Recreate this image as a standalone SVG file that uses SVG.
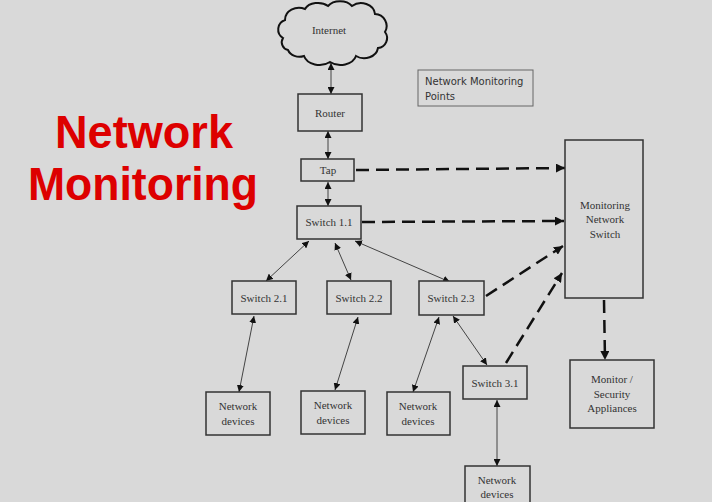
<svg xmlns="http://www.w3.org/2000/svg" width="712" height="502" viewBox="0 0 712 502">
<defs>
<style>
.bg{fill:#d9d9d9}
.box{fill:#d9d9d9;stroke:#333;stroke-width:1.5}
.t{font-family:"Liberation Serif",serif;font-size:11px;fill:#333;text-anchor:middle}
.ln{fill:none;stroke:#444;stroke-width:1;marker-start:url(#a);marker-end:url(#a)}
.dl{fill:none;stroke:#111;stroke-width:2.5;stroke-dasharray:13,7;marker-end:url(#d)}
.title{font-family:"Liberation Sans",Arial,sans-serif;font-weight:bold;font-size:46px;fill:#dd0000}
</style>
<marker id="a" viewBox="0 0 10 10" refX="10" refY="5" markerWidth="7" markerHeight="7" markerUnits="userSpaceOnUse" orient="auto-start-reverse">
<path d="M0,0 L10,5 L0,10 Z" fill="#111"/>
</marker>
<marker id="d" viewBox="0 0 10 10" refX="10" refY="5" markerWidth="9" markerHeight="9" markerUnits="userSpaceOnUse" orient="auto">
<path d="M0,0 L10,5 L0,10 Z" fill="#111"/>
</marker>
</defs>
<rect class="bg" x="0" y="0" width="712" height="502"/>
<g id="title">
<text class="title" x="55" y="148" textLength="178" lengthAdjust="spacingAndGlyphs">Network</text>
<text class="title" x="28" y="200" textLength="230" lengthAdjust="spacingAndGlyphs">Monitoring</text>
</g>
<g id="connectors">
<line class="ln" x1="331" y1="63" x2="331" y2="94"/>
<line class="ln" x1="328" y1="131" x2="328" y2="159"/>
<line class="ln" x1="328" y1="182" x2="328" y2="206"/>
<line class="ln" x1="309" y1="241" x2="266" y2="281"/>
<line class="ln" x1="335" y1="243" x2="351" y2="280"/>
<line class="ln" x1="355" y1="241" x2="450" y2="282"/>
<line class="ln" x1="254" y1="316" x2="239" y2="392"/>
<line class="ln" x1="358" y1="317" x2="335" y2="390"/>
<line class="ln" x1="439" y1="317" x2="413" y2="392"/>
<line class="ln" x1="453" y1="316" x2="487" y2="365"/>
<line class="ln" x1="497" y1="400" x2="497" y2="466"/>
<line class="dl" x1="356" y1="170" x2="565" y2="168"/>
<line class="dl" x1="362" y1="222" x2="564" y2="221"/>
<line class="dl" x1="486" y1="296" x2="563" y2="246"/>
<line class="dl" x1="506" y1="363" x2="562" y2="273"/>
<line class="dl" x1="604" y1="300" x2="605" y2="360"/>
</g>
<g id="internet">
<path d="M283,38 A10,10 0 0 1 285,20 A14,12 0 0 1 305,9 A14,10 0 0 1 328,6 A14,10 0 0 1 352,6 A14,12 0 0 1 375,14 A12,12 0 0 1 385,32 A10,10 0 0 1 378,48 A14,12 0 0 1 356,56 A16,12 0 0 1 330,62 A16,12 0 0 1 304,56 A12,10 0 0 1 288,50 A8,8 0 0 1 283,38 Z" fill="#d9d9d9" stroke="#111" stroke-width="2"/>
<text class="t" x="329" y="34" font-size="10">Internet</text>
</g>
<g id="router"><rect class="box" x="298" y="94" width="64" height="37"/><text class="t" x="330" y="117">Router</text></g>
<g id="tap"><rect class="box" x="301" y="159" width="53" height="22" stroke-width="2.5" stroke="#111"/><text class="t" x="328" y="174">Tap</text></g>
<g id="switch11"><rect class="box" x="297" y="206" width="64" height="33"/><text class="t" x="329" y="226">Switch 1.1</text></g>
<g id="nmp"><rect x="418" y="70" width="115" height="36" fill="#d9d9d9" stroke="#666" stroke-width="1"/>
<text x="425" y="85" font-family="'DejaVu Sans',sans-serif" font-size="10" fill="#333">Network Monitoring</text>
<text x="425" y="100" font-family="'DejaVu Sans',sans-serif" font-size="10" fill="#333">Points</text></g>
<g id="mns"><rect class="box" x="565" y="140" width="78" height="158" stroke="#222"/>
<text class="t" x="605" y="209">Monitoring</text><text class="t" x="605" y="223">Network</text><text class="t" x="605" y="238">Switch</text></g>
<g id="appliances"><rect class="box" x="570" y="360" width="84" height="68"/>
<text class="t" x="612" y="383">Monitor /</text><text class="t" x="612" y="398">Security</text><text class="t" x="612" y="412">Appliances</text></g>
<g id="switch21"><rect class="box" x="232" y="281" width="64" height="33"/><text class="t" x="264" y="302">Switch 2.1</text></g>
<g id="switch22"><rect class="box" x="327" y="281" width="64" height="33"/><text class="t" x="359" y="302">Switch 2.2</text></g>
<g id="switch23"><rect class="box" x="419" y="281" width="65" height="34"/><text class="t" x="451" y="302">Switch 2.3</text></g>
<g id="switch31"><rect class="box" x="463" y="366" width="64" height="33"/><text class="t" x="495" y="387">Switch 3.1</text></g>
<g id="nd1"><rect class="box" x="206" y="392" width="64" height="43"/><text class="t" x="238" y="410">Network</text><text class="t" x="238" y="425">devices</text></g>
<g id="nd2"><rect class="box" x="301" y="391" width="64" height="43"/><text class="t" x="333" y="409">Network</text><text class="t" x="333" y="424">devices</text></g>
<g id="nd3"><rect class="box" x="387" y="392" width="63" height="43"/><text class="t" x="418" y="410">Network</text><text class="t" x="418" y="425">devices</text></g>
<g id="nd4"><rect class="box" x="465" y="466" width="65" height="40"/><text class="t" x="497" y="484">Network</text><text class="t" x="497" y="498">devices</text></g>
</svg>
